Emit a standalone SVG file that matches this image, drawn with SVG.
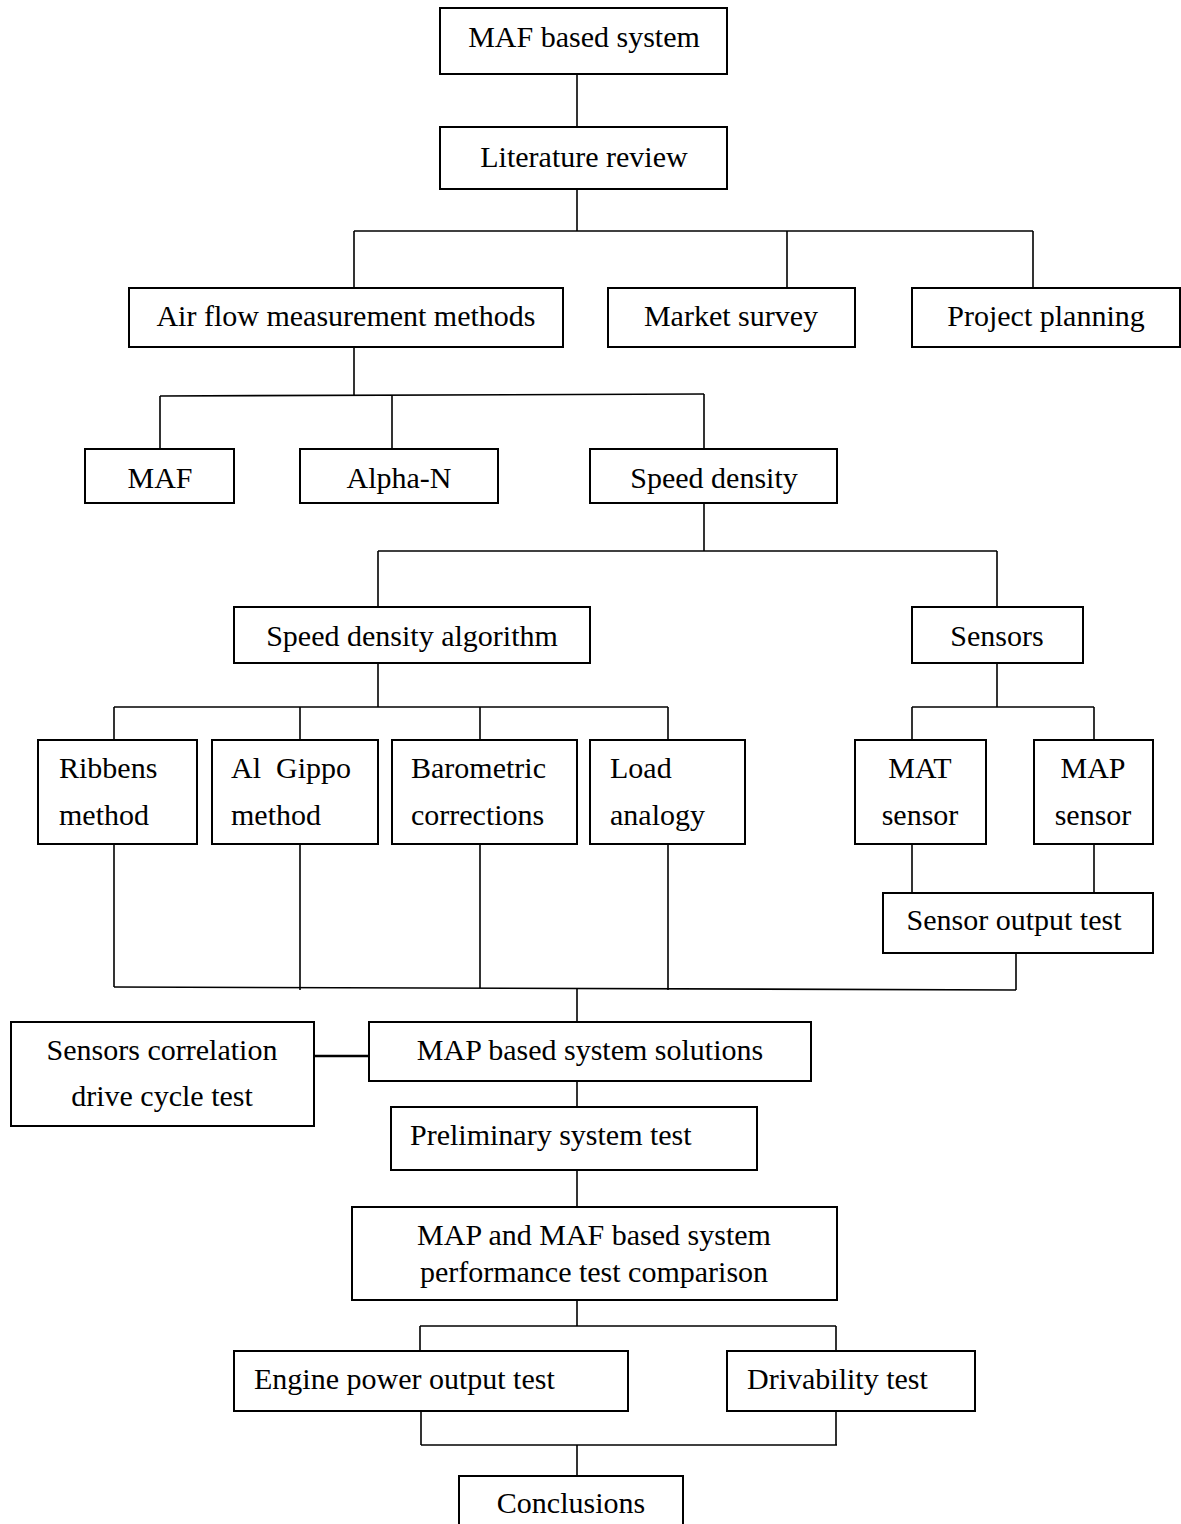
<svg xmlns="http://www.w3.org/2000/svg" width="1181" height="1524" viewBox="0 0 1181 1524">
<style>
.b{fill:#fff;stroke:#000;stroke-width:2}
.c line,.c polyline{stroke:#000;stroke-width:1.6;fill:none}
text{font-family:"Liberation Serif","Times New Roman",serif;font-size:30px;fill:#000}
.m{text-anchor:middle}
</style>
<rect width="1181" height="1524" fill="#fff"/>
<g class="c" id="connectors">
<line x1="577" y1="74" x2="577" y2="127"/>
<line x1="577" y1="189" x2="577" y2="231"/>
<line x1="354" y1="231" x2="1033" y2="231"/>
<line x1="354" y1="231" x2="354" y2="288"/>
<line x1="787" y1="231" x2="787" y2="288"/>
<line x1="1033" y1="231" x2="1033" y2="288"/>
<line x1="354" y1="347" x2="354" y2="396"/>
<line x1="160" y1="396" x2="704" y2="394"/>
<line x1="160" y1="396" x2="160" y2="449"/>
<line x1="392" y1="395" x2="392" y2="449"/>
<line x1="704" y1="394" x2="704" y2="449"/>
<line x1="704" y1="503" x2="704" y2="551"/>
<line x1="378" y1="551" x2="997" y2="551"/>
<line x1="378" y1="551" x2="378" y2="607"/>
<line x1="997" y1="551" x2="997" y2="607"/>
<line x1="378" y1="663" x2="378" y2="707"/>
<line x1="114" y1="707" x2="668" y2="707"/>
<line x1="114" y1="707" x2="114" y2="740"/>
<line x1="300" y1="707" x2="300" y2="740"/>
<line x1="480" y1="707" x2="480" y2="740"/>
<line x1="668" y1="707" x2="668" y2="740"/>
<line x1="997" y1="663" x2="997" y2="707"/>
<line x1="912" y1="707" x2="1094" y2="707"/>
<line x1="912" y1="707" x2="912" y2="740"/>
<line x1="1094" y1="707" x2="1094" y2="740"/>
<line x1="912" y1="844" x2="912" y2="893"/>
<line x1="1094" y1="844" x2="1094" y2="893"/>
<line x1="114" y1="844" x2="114" y2="987"/>
<line x1="300" y1="844" x2="300" y2="990"/>
<line x1="480" y1="844" x2="480" y2="988"/>
<line x1="668" y1="844" x2="668" y2="990"/>
<line x1="1016" y1="949" x2="1016" y2="990"/>
<line x1="114" y1="987" x2="1016" y2="990"/>
<line x1="577" y1="988" x2="577" y2="1022"/>
<line x1="314" y1="1056" x2="369" y2="1056" style="stroke-width:2.5"/>
<line x1="577" y1="1081" x2="577" y2="1107"/>
<line x1="577" y1="1170" x2="577" y2="1207"/>
<line x1="577" y1="1300" x2="577" y2="1326"/>
<line x1="420" y1="1326" x2="836" y2="1326"/>
<line x1="420" y1="1326" x2="420" y2="1351"/>
<line x1="836" y1="1326" x2="836" y2="1351"/>
<line x1="421" y1="1411" x2="421" y2="1445"/>
<line x1="836" y1="1411" x2="836" y2="1445"/>
<line x1="421" y1="1445" x2="837" y2="1445"/>
<line x1="577" y1="1445" x2="577" y2="1476"/>
</g>
<g id="n-maf-system"><rect class="b" x="440" y="8" width="287" height="66"/><text class="m" x="584" y="47">MAF based system</text></g>
<g id="n-literature"><rect class="b" x="440" y="127" width="287" height="62"/><text class="m" x="584" y="167">Literature review</text></g>
<g id="n-airflow"><rect class="b" x="129" y="288" width="434" height="59"/><text class="m" x="346" y="326">Air flow measurement methods</text></g>
<g id="n-market"><rect class="b" x="608" y="288" width="247" height="59"/><text class="m" x="731" y="326">Market survey</text></g>
<g id="n-project"><rect class="b" x="912" y="288" width="268" height="59"/><text class="m" x="1046" y="326">Project planning</text></g>
<g id="n-maf"><rect class="b" x="85" y="449" width="149" height="54"/><text class="m" x="160" y="488">MAF</text></g>
<g id="n-alphan"><rect class="b" x="300" y="449" width="198" height="54"/><text class="m" x="399" y="488">Alpha-N</text></g>
<g id="n-speed"><rect class="b" x="590" y="449" width="247" height="54"/><text class="m" x="714" y="488">Speed density</text></g>
<g id="n-sda"><rect class="b" x="234" y="607" width="356" height="56"/><text class="m" x="412" y="646">Speed density algorithm</text></g>
<g id="n-sensors"><rect class="b" x="912" y="607" width="171" height="56"/><text class="m" x="997" y="646">Sensors</text></g>
<g id="n-ribbens"><rect class="b" x="38" y="740" width="159" height="104"/><text x="59" y="778">Ribbens</text><text x="59" y="825">method</text></g>
<g id="n-algippo"><rect class="b" x="212" y="740" width="166" height="104"/><text x="231" y="778" xml:space="preserve">Al  Gippo</text><text x="231" y="825">method</text></g>
<g id="n-baro"><rect class="b" x="392" y="740" width="185" height="104"/><text x="411" y="778">Barometric</text><text x="411" y="825">corrections</text></g>
<g id="n-load"><rect class="b" x="590" y="740" width="155" height="104"/><text x="610" y="778">Load</text><text x="610" y="825">analogy</text></g>
<g id="n-mat"><rect class="b" x="855" y="740" width="131" height="104"/><text class="m" x="920" y="778">MAT</text><text class="m" x="920" y="825">sensor</text></g>
<g id="n-map"><rect class="b" x="1034" y="740" width="119" height="104"/><text class="m" x="1093" y="778">MAP</text><text class="m" x="1093" y="825">sensor</text></g>
<g id="n-sot"><rect class="b" x="883" y="893" width="270" height="60"/><text class="m" x="1014" y="930">Sensor output test</text></g>
<g id="n-mapsol"><rect class="b" x="369" y="1022" width="442" height="59"/><text class="m" x="590" y="1060">MAP based system solutions</text></g>
<g id="n-scdct"><rect class="b" x="11" y="1022" width="303" height="104"/><text class="m" x="162" y="1060">Sensors correlation</text><text class="m" x="162" y="1106">drive cycle test</text></g>
<g id="n-prelim"><rect class="b" x="391" y="1107" width="366" height="63"/><text x="410" y="1145">Preliminary system test</text></g>
<g id="n-compare"><rect class="b" x="352" y="1207" width="485" height="93"/><text class="m" x="594" y="1245">MAP and MAF based system</text><text class="m" x="594" y="1282">performance test comparison</text></g>
<g id="n-engine"><rect class="b" x="234" y="1351" width="394" height="60"/><text x="254" y="1389">Engine power output test</text></g>
<g id="n-drive"><rect class="b" x="727" y="1351" width="248" height="60"/><text x="747" y="1389">Drivability test</text></g>
<g id="n-concl"><rect class="b" x="459" y="1476" width="224" height="60"/><text class="m" x="571" y="1513">Conclusions</text></g>
</svg>
